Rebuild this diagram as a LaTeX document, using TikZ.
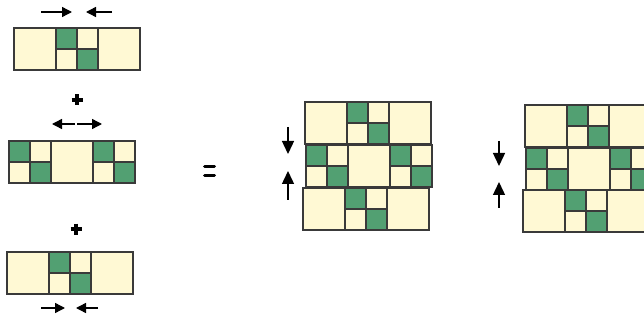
\documentclass[tikz,border=0pt]{standalone}
\usetikzlibrary{arrows.meta}
\definecolor{cream}{HTML}{FFF9D4}
\definecolor{tilegreen}{HTML}{52A072}
\definecolor{edge}{HTML}{3A3A3A}
\tikzset{
  cell/.style={fill=cream,draw=edge,line width=1.1pt},
  gcell/.style={fill=tilegreen,draw=edge,line width=1.1pt},
  push/.style={line width=1.4pt,-{Triangle[length=10pt,width=10pt]}},
  vpush/.style={line width=1.4pt,-{Triangle[length=13pt,width=12pt]}},
  sym/.style={line width=3.8pt}
}
% row type A: large, two small columns (green top-left, bottom-right), large
\newcommand\tilerowA[2]{%
  \begin{scope}[shift={(#1,#2)}]
    \draw[cell] (0,0) rectangle (42,42);
    \draw[gcell] (42,0) rectangle (63,21);
    \draw[cell] (63,0) rectangle (84,21);
    \draw[cell] (42,21) rectangle (63,42);
    \draw[gcell] (63,21) rectangle (84,42);
    \draw[cell] (84,0) rectangle (126,42);
  \end{scope}}
% row type B: two small columns, large, two small columns
\newcommand\tilerowB[2]{%
  \begin{scope}[shift={(#1,#2)}]
    \draw[gcell] (0,0) rectangle (21,21);
    \draw[cell] (21,0) rectangle (42,21);
    \draw[cell] (0,21) rectangle (21,42);
    \draw[gcell] (21,21) rectangle (42,42);
    \draw[cell] (42,0) rectangle (84,42);
    \draw[gcell] (84,0) rectangle (105,21);
    \draw[cell] (105,0) rectangle (126,21);
    \draw[cell] (84,21) rectangle (105,42);
    \draw[gcell] (105,21) rectangle (126,42);
  \end{scope}}
\begin{document}
\begin{tikzpicture}[x=1pt,y=-1pt]
\useasboundingbox (0,0) rectangle (644,320);
\clip (0,0) rectangle (644,320);
% left column
\tilerowA{14}{28}
\tilerowB{9}{141}
\tilerowA{7}{252}
% middle composite
\tilerowA{305}{102}
\tilerowB{306}{145}
\tilerowA{303}{188}
% right composite
\tilerowA{525}{105}
\tilerowB{526}{148}
\tilerowA{523}{190}
% arrow end points
\coordinate (a1s) at (41,12);  \coordinate (a1e) at (72,12);
\coordinate (a2s) at (112,12); \coordinate (a2e) at (86,12);
\coordinate (b1s) at (75,124); \coordinate (b1e) at (52,124);
\coordinate (b2s) at (77,124); \coordinate (b2e) at (102,124);
\coordinate (c1s) at (41,308); \coordinate (c1e) at (65,308);
\coordinate (c2s) at (98,308); \coordinate (c2e) at (76,308);
\coordinate (m1s) at (288,127); \coordinate (m1e) at (288,154);
\coordinate (m2s) at (288,200); \coordinate (m2e) at (288,171);
\coordinate (r1s) at (499,141); \coordinate (r1e) at (499,166);
\coordinate (r2s) at (499,208); \coordinate (r2e) at (499,182);
\draw[push] (a1s) -- (a1e);
\draw[push] (a2s) -- (a2e);
\draw[push] (b1s) -- (b1e);
\draw[push] (b2s) -- (b2e);
\draw[push] (c1s) -- (c1e);
\draw[push] (c2s) -- (c2e);
\draw[vpush] (m1s) -- (m1e);
\draw[vpush] (m2s) -- (m2e);
\draw[vpush] (r1s) -- (r1e);
\draw[vpush] (r2s) -- (r2e);
% plus signs
\draw[sym] (71.5,100) -- (82.5,100) (77,94.5) -- (77,105.5);
\draw[sym] (70.5,229) -- (81.5,229) (76,223.5) -- (76,234.5);
% equals sign
\draw[sym,line width=3pt,line cap=round] (204.5,167) -- (214.5,167) (204.5,176) -- (214.5,176);
\end{tikzpicture}
\end{document}
